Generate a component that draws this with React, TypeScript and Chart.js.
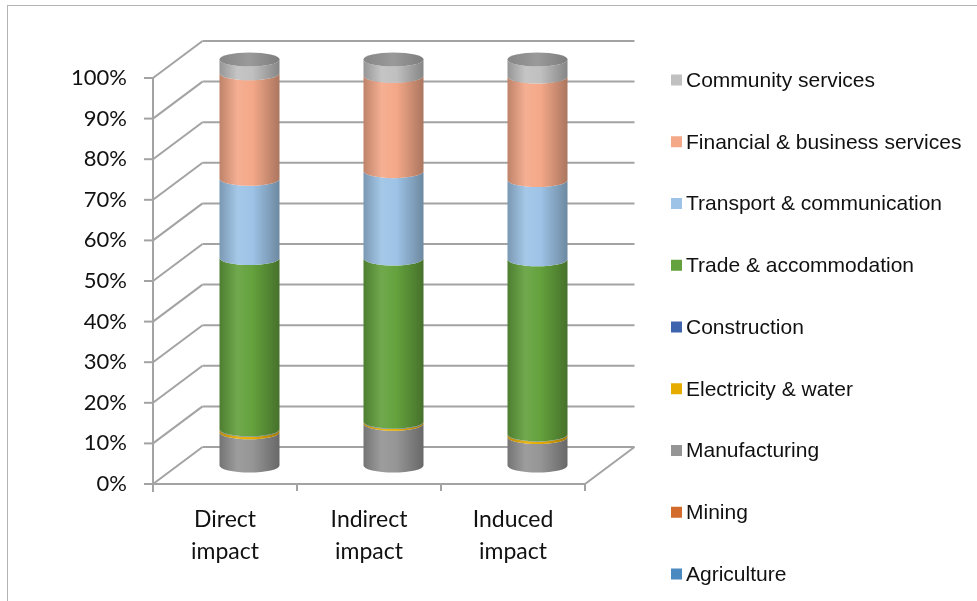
import React, { useEffect, useRef } from "react";
import { Chart, registerables } from "chart.js";

Chart.register(...registerables);

const categories = [["Direct", "impact"], ["Indirect", "impact"], ["Induced", "impact"]];
const seriesNames = [
  "Agriculture",
  "Mining",
  "Manufacturing",
  "Electricity & water",
  "Construction",
  "Trade & accommodation",
  "Transport & communication",
  "Financial & business services",
  "Community services",
];
const agriculture = [0, 0, 0];
const mining = [0, 0, 0];
const manufacturing = [8.2, 10.3, 7];
const electricity = [0.6, 0.4, 0.6];
const construction = [0.1, 0.1, 0.1];
const trade = [42.2, 40.2, 43.1];
const transport = [19.5, 21.5, 19.5];
const financial = [26, 23.5, 25.5];
const community = [3.4, 4, 4.2];
const seriesValues = [agriculture, mining, manufacturing, electricity, construction, trade, transport, financial, community];
const seriesColors = ["#4a8ac0", "#d26b2b", "#959595", "#e6ac00", "#3e64ad", "#64a23d", "#9dc3e6", "#f4a888", "#c0c0c0"];
const yTickValues = [0, 10, 20, 30, 40, 50, 60, 70, 80, 90, 100];

const BAR_DX = 24.5;
const BAR_DY = -18.5;
const WALL_DX = 49.5;
const WALL_DY = -37;

function shade(hex: string, amt: number): string {
  const n = parseInt(hex.slice(1), 16);
  let r = (n >> 16) & 255, g = (n >> 8) & 255, b = n & 255;
  const f = (c: number) => {
    if (amt < 0) return Math.round(c * (1 + amt));
    return Math.round(c + (255 - c) * amt);
  };
  r = f(r); g = f(g); b = f(b);
  return `rgb(${r},${g},${b})`;
}

const threeDPlugin = {
  id: "threeD",
  beforeDraw(chart: any) {
    const ctx = chart.ctx;
    ctx.save();
    ctx.fillStyle = "#ffffff";
    ctx.fillRect(0, 0, chart.width, chart.height);
    ctx.strokeStyle = "#b4b4b4";
    ctx.lineWidth = 1;
    ctx.strokeRect(7.5, 5.5, 1200, 800);
    ctx.restore();
  },
  beforeDatasetsDraw(chart: any) {
    const ctx = chart.ctx;
    const { left, right, top, bottom } = chart.chartArea;
    const yS = chart.scales.y;
    ctx.save();
    ctx.strokeStyle = "#a3a3a3";
    ctx.lineWidth = 2;
    ctx.lineCap = "butt";
    const line = (x1: number, y1: number, x2: number, y2: number) => {
      ctx.beginPath();
      ctx.moveTo(x1, y1);
      ctx.lineTo(x2, y2);
      ctx.stroke();
    };
    yTickValues.forEach((v) => {
      const yf = yS.getPixelForValue(v);
      line(left - 9, yf, left, yf);
      line(left, yf, left + WALL_DX, yf + WALL_DY);
      line(left + WALL_DX, yf + WALL_DY, right + WALL_DX, yf + WALL_DY);
    });
    line(left, top - 1, left, bottom + 8);
    line(left, bottom, right, bottom);
    line(right, bottom, right + WALL_DX, bottom + WALL_DY);
    const n = categories.length;
    for (let i = 1; i <= n; i++) {
      const x = left + ((right - left) * i) / n;
      line(x, bottom, x, bottom + 7);
    }

    // cylinders
    const nSeries = chart.data.datasets.length;
    for (let c = 0; c < n; c++) {
      let topY = 0;
      let cx = 0, rx = 0;
      for (let s = 0; s < nSeries; s++) {
        const meta = chart.getDatasetMeta(s);
        const el: any = meta.data[c];
        if (!el) continue;
        const color = chart.data.datasets[s].backgroundColor as string;
        cx = el.x + BAR_DX;
        rx = el.width / 2;
        const ry = 7;
        const yt = el.y + BAR_DY;
        const yb = el.base + BAR_DY;
        if (Math.abs(yb - yt) < 0.01) continue;
        const g = ctx.createLinearGradient(cx - rx, 0, cx + rx, 0);
        g.addColorStop(0, shade(color, -0.22));
        g.addColorStop(0.3, shade(color, 0.08));
        g.addColorStop(0.55, color);
        g.addColorStop(1, shade(color, -0.3));
        ctx.fillStyle = g;
        ctx.beginPath();
        ctx.moveTo(cx - rx, yt);
        ctx.ellipse(cx, yt, rx, ry, 0, Math.PI, 0, true);
        ctx.lineTo(cx + rx, yb);
        ctx.ellipse(cx, yb, rx, ry, 0, 0, Math.PI, false);
        ctx.closePath();
        ctx.fill();
        topY = yt;
      }
      // top cap
      const capColor = chart.data.datasets[nSeries - 1].backgroundColor as string;
      const cg = ctx.createLinearGradient(cx - rx, 0, cx + rx, 0);
      cg.addColorStop(0, shade(capColor, -0.3));
      cg.addColorStop(0.5, shade(capColor, -0.2));
      cg.addColorStop(1, shade(capColor, -0.35));
      ctx.fillStyle = cg;
      ctx.beginPath();
      ctx.ellipse(cx, topY, rx, 7, 0, 0, Math.PI * 2);
      ctx.fill();
    }

    // legend
    ctx.font = "21px 'Liberation Sans', Arial, sans-serif";
    ctx.textBaseline = "middle";
    ctx.textAlign = "left";
    const rows = chart.data.datasets.slice().reverse();
    rows.forEach((ds: any, i: number) => {
      const yc = 80 + i * 61.75;
      ctx.fillStyle = ds.backgroundColor;
      ctx.fillRect(671, yc - 5.5, 11, 11);
      ctx.fillStyle = "#111111";
      ctx.fillText(ds.label, 686, yc + 1);
    });
    ctx.restore();
    return false;
  },
};

export default function App() {
  const ref = useRef<HTMLCanvasElement>(null);
  useEffect(() => {
    if (!ref.current) return;
    const chart = new Chart(ref.current, {
      type: "bar",
      data: {
        labels: categories as any,
        datasets: seriesNames.map((name, i) => ({
          label: name,
          data: seriesValues[i],
          backgroundColor: seriesColors[i],
          barPercentage: 60 / 144,
          categoryPercentage: 1,
        })),
      },
      options: {
        animation: false,
        responsive: false,
        events: [],
        layout: { padding: { left: 0, top: 78, right: 392, bottom: 0 } },
        plugins: { legend: { display: false }, tooltip: { enabled: false } },
        scales: {
          x: {
            stacked: true,
            grid: { display: false, drawTicks: false },
            border: { display: false },
            ticks: {
              padding: 19,
              color: "#111111",
              font: { family: "Lato, 'Open Sans', sans-serif", size: 23, lineHeight: 1.4 },
              maxRotation: 0,
              autoSkip: false,
            },
            afterFit: (s: any) => { s.height = 117; },
          },
          y: {
            stacked: true,
            min: 0,
            max: 100,
            grid: { display: false, drawTicks: false },
            border: { display: false },
            ticks: {
              stepSize: 10,
              padding: 26,
              color: "#111111",
              font: { family: "Lato, 'Open Sans', sans-serif", size: 22 },
              callback: (v: any) => `${v}%`,
            },
            afterFit: (s: any) => { s.width = 153; },
          },
        },
      },
      plugins: [threeDPlugin as any],
    });
    return () => chart.destroy();
  }, []);
  return (
    <div style={{ position: "fixed", left: 0, top: 0, width: 977, height: 601, background: "#fff" }}>
      <canvas ref={ref} width={977} height={601} style={{ width: 977, height: 601, display: "block" }} />
    </div>
  );
}
